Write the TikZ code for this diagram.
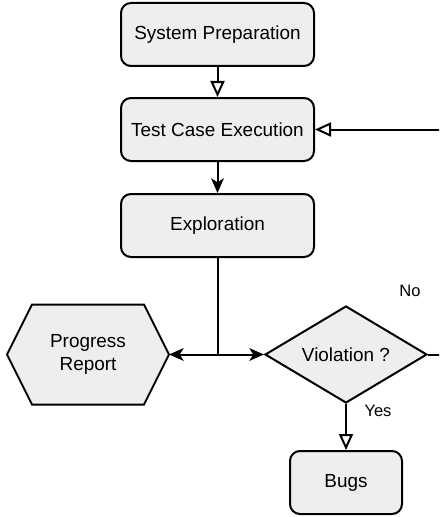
\documentclass[tikz,border=0pt]{standalone}
\usepackage{fontspec}
\setmainfont{Liberation Sans}
\usetikzlibrary{arrows.meta}
\usetikzlibrary{shapes}
\usetikzlibrary{backgrounds}
\definecolor{boxgray}{RGB}{238,238,238}

\begin{document}
\begin{tikzpicture}[x=0.75pt,y=-0.75pt,>={Stealth[length=11pt,width=9.5pt,inset=3pt]},
  line width=1.5pt,
  font=\fontsize{14.2}{17.25}\selectfont,
  box/.style={draw,fill=boxgray,rounded corners=7.5pt,minimum width=144.75pt,minimum height=47.25pt,inner sep=0pt},
  hexa/.style={minimum width=120pt,minimum height=73.5pt,align=center,inner sep=0pt},
  hexline/.style={draw,fill=boxgray,line width=1.5pt,line join=miter},
  decision/.style={draw,fill=boxgray,diamond,aspect=1.67,minimum width=121.5pt,minimum height=72.75pt,inner sep=0pt},
  open tip/.style={-{Triangle[open,length=12pt,width=10.5pt]}},
  lbl/.style={font=\fontsize{12.4}{14}\selectfont}]

\useasboundingbox (0,0) rectangle (439,517);
\clip (0,0) rectangle (439,517);

\node [box] (prep) at (217.5,34.5) {System Preparation};
\node [box] (exec) at (217.5,129.5) {Test Case Execution};
\node [box] (expl) at (217.5,225.5) {Exploration};
\node [hexa] (report) at (88,354.5) {Progress\\Report};
\node [decision] (viol) at (346,354.5) {Violation ?};
\node [box,minimum width=84pt] (bugs) at (346,482.5) {Bugs};

\begin{scope}[on background layer]
\path [hexline] (report.west) -- ([xshift=18.75pt]report.north west) -- ([xshift=-18.75pt]report.north east)
  -- (report.east) -- ([xshift=-18.75pt]report.south east) -- ([xshift=18.75pt]report.south west) -- cycle;
\end{scope}

\coordinate (split) at (expl.south |- viol.west);
\coordinate (loop) at (450,354.5);

\draw [open tip] (prep) -- (exec);
\draw [->] (exec) -- (expl);
\draw (expl.south) -- (split);
\draw [->] (split) -- (report.east);
\draw [->] (split) -- (viol.west);
\draw [open tip] (viol) -- (bugs);
\draw [open tip] (viol.east) -- (loop) |- (exec.east);

\node [lbl] (no) at (410,291) {No};
\node [lbl] (yes) at (378,410.5) {Yes};

\end{tikzpicture}
\end{document}
